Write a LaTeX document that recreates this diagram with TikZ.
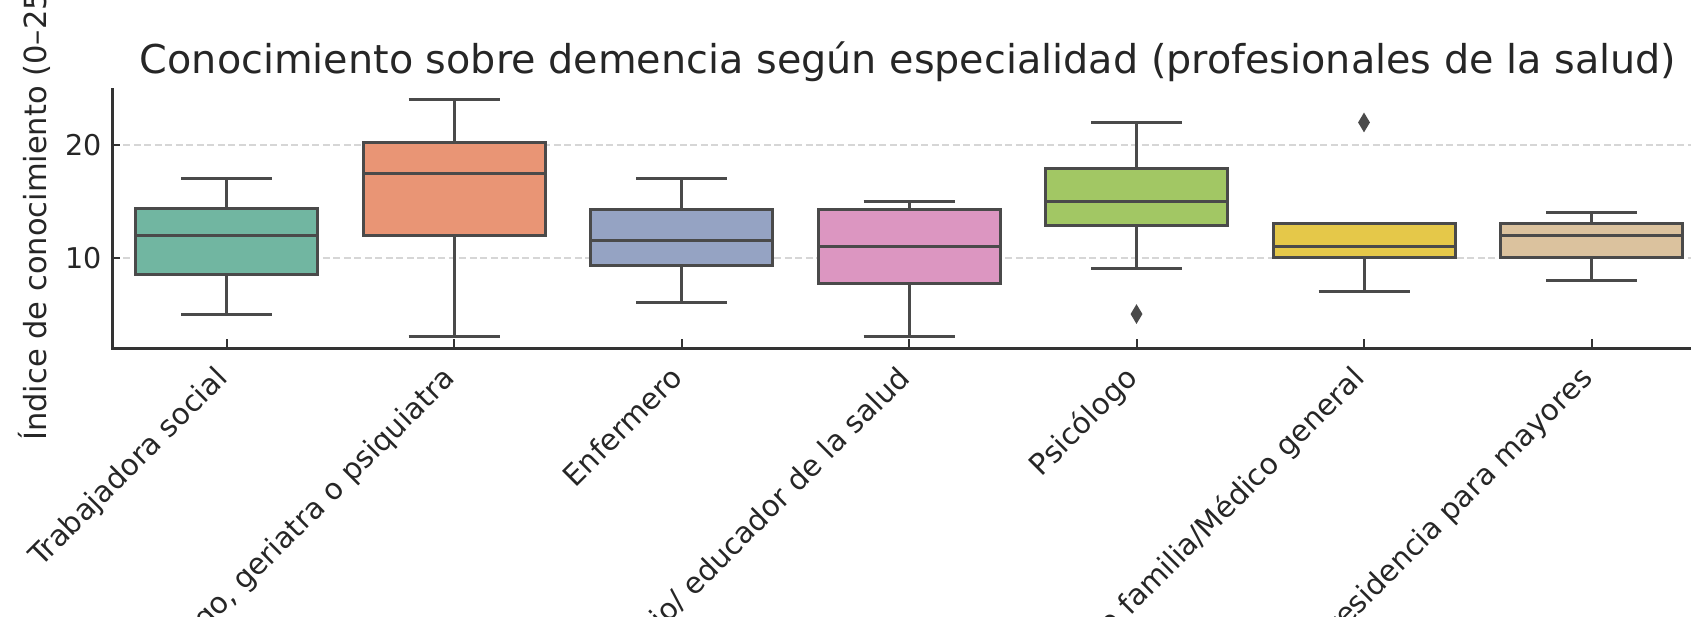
\documentclass[tikz,border=0pt]{standalone}
\usepackage{fontspec}
\setmainfont{DejaVu Sans}
\usetikzlibrary{shapes.geometric}

\definecolor{boxline}{HTML}{4A4A4A}
\definecolor{axisline}{HTML}{333333}
\definecolor{gridgray}{HTML}{D6D6D6}
\definecolor{textgray}{HTML}{262626}
\definecolor{setteal}{HTML}{71B6A1}
\definecolor{setorange}{HTML}{E99575}
\definecolor{setblue}{HTML}{95A3C3}
\definecolor{setpink}{HTML}{DC96C1}
\definecolor{setgreen}{HTML}{A2C764}
\definecolor{setyellow}{HTML}{E5C849}
\definecolor{settan}{HTML}{DBC29E}

\begin{document}
\begin{tikzpicture}[x=1pt, y=1pt,
                    quartile/.style={draw=boxline, line width=3pt},
                    whisker/.style={draw=boxline, line width=3pt},
                    outlier/.style={diamond, fill=boxline, inner sep=0pt,
                                    minimum width=12pt, minimum height=20pt},
                    gridline/.style={draw=gridgray, line width=1.8pt,
                                     dash pattern=on 7pt off 3.5pt},
                    spine/.style={draw=axisline, line width=2.8pt},
                    tickmark/.style={draw=axisline, line width=2pt},
                    ticklabel/.style={text=textgray, inner sep=0pt},
                    category/.style={ticklabel, rotate=45, anchor=base east},
                    font=\fontsize{29.3pt}{35pt}\selectfont]
  \useasboundingbox (0, 0) rectangle (1691, 616);
  \clip (0, 0) rectangle (1691, 616);

  % Title and axis label.
  \node at (908, 542) [anchor=base, text=textgray, inner sep=0pt,
                       font=\fontsize{39.7pt}{48pt}\selectfont, name=Title]
        {Conocimiento sobre demencia según especialidad (profesionales de la salud)};
  \node at (46, 406) [rotate=90, anchor=base, ticklabel,
                      font=\fontsize{30.5pt}{36pt}\selectfont, name=YLabel]
        {Índice de conocimiento (0–25)};

  % Value labels.
  \node at (102, 471) [ticklabel, anchor=east, font=\fontsize{28.6pt}{34pt}\selectfont,
                       name=YTwenty] {20};
  \node at (102, 358.3) [ticklabel, anchor=east, font=\fontsize{28.6pt}{34pt}\selectfont,
                         name=YTen] {10};

  % Category labels.
  \node at (229, 236) [category, name=Social] {Trabajadora social};
  \node at (456.5, 236) [category, name=Neuro] {Neurólogo, geriatra o psiquiatra};
  \node at (684, 236) [category, name=Enfermero] {Enfermero};
  \node at (911.5, 236) [category, name=Educador] {Promotor sanitario/ educador de la salud};
  \node at (1139, 236) [category, name=Psicologo] {Psicólogo};
  \node at (1366.5, 236) [category, name=Medico] {Médico de familia/Médico general};
  \node at (1594, 236) [category, name=Residencia] {Trabajador de residencia para mayores};

  \begin{scope}[shift={(226.5, 245.6)}, x=227.5pt, y=11.27pt]
    % Grid.
    \draw [gridline] (-0.5, 10) -- (6.5, 10);
    \draw [gridline] (-0.5, 20) -- (6.5, 20);

    % Whiskers.
    \draw [whisker] (0, 5) -- (0, 8.5) (0, 14.4) -- (0, 17)
                    (-0.2, 5) -- (0.2, 5) (-0.2, 17) -- (0.2, 17);
    \draw [whisker] (1, 3) -- (1, 12) (1, 20.25) -- (1, 24)
                    (0.8, 3) -- (1.2, 3) (0.8, 24) -- (1.2, 24);
    \draw [whisker] (2, 6) -- (2, 9.35) (2, 14.25) -- (2, 17)
                    (1.8, 6) -- (2.2, 6) (1.8, 17) -- (2.2, 17);
    \draw [whisker] (3, 3) -- (3, 7.7) (3, 14.25) -- (3, 15)
                    (2.8, 3) -- (3.2, 3) (2.8, 15) -- (3.2, 15);
    \draw [whisker] (4, 9) -- (4, 12.9) (4, 17.9) -- (4, 22)
                    (3.8, 9) -- (4.2, 9) (3.8, 22) -- (4.2, 22);
    \draw [whisker] (5, 7) -- (5, 10)
                    (4.8, 7) -- (5.2, 7);
    \draw [whisker] (6, 8) -- (6, 10) (6, 13) -- (6, 14)
                    (5.8, 8) -- (6.2, 8) (5.8, 14) -- (6.2, 14);

    % Boxes.
    \draw [quartile, fill=setteal] (-0.4, 8.5) rectangle (0.4, 14.4);
    \draw [quartile, fill=setorange] (0.6, 12) rectangle (1.4, 20.25);
    \draw [quartile, fill=setblue] (1.6, 9.35) rectangle (2.4, 14.25);
    \draw [quartile, fill=setpink] (2.6, 7.7) rectangle (3.4, 14.25);
    \draw [quartile, fill=setgreen] (3.6, 12.9) rectangle (4.4, 17.9);
    \draw [quartile, fill=setyellow] (4.6, 10) rectangle (5.4, 13);
    \draw [quartile, fill=settan] (5.6, 10) rectangle (6.4, 13);

    % Medians.
    \draw [quartile] (-0.4, 12) -- (0.4, 12);
    \draw [quartile] (0.6, 17.5) -- (1.4, 17.5);
    \draw [quartile] (1.6, 11.5) -- (2.4, 11.5);
    \draw [quartile] (2.6, 11) -- (3.4, 11);
    \draw [quartile] (3.6, 15) -- (4.4, 15);
    \draw [quartile] (4.6, 11) -- (5.4, 11);
    \draw [quartile] (5.6, 12) -- (6.4, 12);

    % Outliers.
    \node at (4, 5) [outlier, name=PsicologoLow] {};
    \node at (5, 22) [outlier, name=MedicoHigh] {};

    % Axes.
    \draw [spine] (-0.5, 25.05) -- (-0.5, 1.95) -- (6.5, 1.95);
    \draw [tickmark] (-0.5, 10) -- +(7pt, 0pt);
    \draw [tickmark] (-0.5, 20) -- +(7pt, 0pt);
    \draw [tickmark] (0, 1.95) -- +(0pt, 9pt);
    \draw [tickmark] (1, 1.95) -- +(0pt, 9pt);
    \draw [tickmark] (2, 1.95) -- +(0pt, 9pt);
    \draw [tickmark] (3, 1.95) -- +(0pt, 9pt);
    \draw [tickmark] (4, 1.95) -- +(0pt, 9pt);
    \draw [tickmark] (5, 1.95) -- +(0pt, 9pt);
    \draw [tickmark] (6, 1.95) -- +(0pt, 9pt);
  \end{scope}
\end{tikzpicture}
\end{document}
